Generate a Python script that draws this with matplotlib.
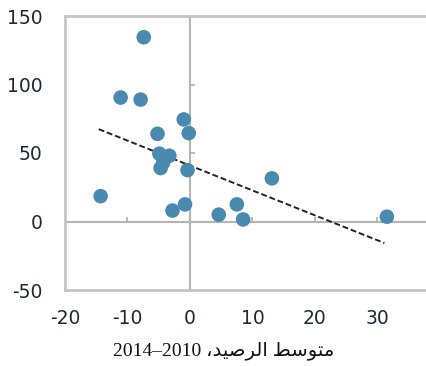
import numpy as np
import matplotlib
matplotlib.use("Agg")
import matplotlib.pyplot as plt

plt.rcParams["axes.unicode_minus"] = False

# points
bal_x = [-7.4, -11.1, -7.9, -1.0, -5.2, -0.2, -4.9, -3.3, -4.3, -4.7, -0.4,
         -14.3, -2.8, -0.8, 4.6, 7.5, 8.5, 13.1, 31.5]
val_y = [134.5, 90.5, 89, 74.5, 64, 64.5, 49.5, 48, 43, 39, 37.5,
         18.5, 8, 12.5, 5, 12.5, 1.5, 31.5, 3.5]

# dashed trend line end points as drawn in the reference
trend_x = [-14.6, 31.1]
trend_y = [67.4, -15.7]

x_ticks = [-20, -10, 0, 10, 20, 30]
y_ticks = [-50, 0, 50, 100, 150]

# "متوسط الرصيد، 2010–2014" in visual order with presentation forms
word1 = "\uFEE3\uFE98\uFEEE\uFEB3\uFEC2"          # متوسط
word2 = "\uFE8D\uFEDF\uFEAE\uFEBB\uFEF4\uFEAA"    # الرصيد
xlabel = "2014\u20132010 \u060C" + word2[::-1] + " " + word1[::-1]

dot_color = "#4a8ab0"
frame_color = "#c4c4c4"
zero_color = "#b4b4b4"
tick_color = "#1f2838"

fig = plt.figure(figsize=(4.27, 3.66), dpi=100)
ax = fig.add_axes([65 / 427, 1 - 290 / 366, 1 - 65 / 427, (290 - 16) / 366])

ax.set_xlim(-20, (427 - 190) / 6.25)
ax.set_ylim(-50, 150)

for s in ["left", "top", "bottom"]:
    ax.spines[s].set_color(frame_color)
    ax.spines[s].set_linewidth(2)
ax.spines["right"].set_visible(False)

# zero axes with small ticks
ax.axhline(0, color=zero_color, lw=1.5, zorder=1)
ax.axvline(0, color=zero_color, lw=1.5, zorder=1)
xt = [t for t in x_ticks if t != 0 and t > -20]
yt = [t for t in y_ticks if t != 0 and -50 < t < 150]
ax.plot(xt, np.zeros(len(xt)), ls="none", marker=[(0, 0), (0, 1)],
        markersize=7, mec=zero_color, mew=1.3, zorder=1)
ax.plot(np.zeros(len(yt)), yt, ls="none", marker=[(0, 0), (1, 0)],
        markersize=7, mec=zero_color, mew=1.3, zorder=1)

ax.plot(trend_x, trend_y, color="#222222", ls=(0, (3, 1.5)), lw=1.4, zorder=2)

ax.scatter(bal_x, val_y, s=110, color=dot_color, edgecolors="none", zorder=3)

ax.set_xticks(x_ticks)
ax.set_yticks(y_ticks)
ax.tick_params(length=0, labelsize=13.5, labelcolor=tick_color)
ax.tick_params(axis="y", pad=16)
ax.tick_params(axis="x", pad=14)

fig.text(224 / 427, 1 - 351 / 366, xlabel, ha="center", va="center",
         fontsize=14, family=["Liberation Serif", "DejaVu Sans"], color="#111111")

fig.savefig("out.png", dpi=100)
